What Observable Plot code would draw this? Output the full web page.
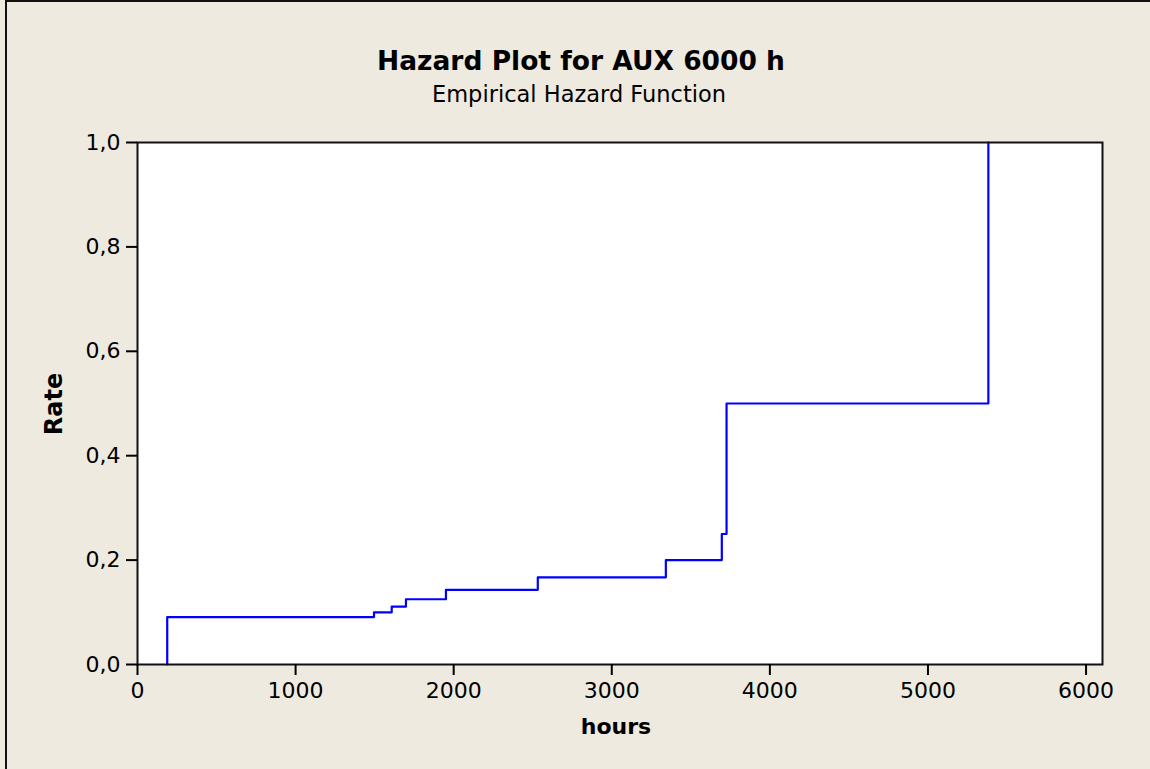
<!DOCTYPE html>
<html>
<head>
<meta charset="utf-8">
<script src="https://cdn.jsdelivr.net/npm/d3@7"></script>
<script src="https://cdn.jsdelivr.net/npm/@observablehq/plot@0.6"></script>
<style>
  html, body { margin: 0; padding: 0; background: #eeeae0; }
  #wrap { position: relative; width: 1150px; height: 769px; overflow: hidden; background: #eeeae0; font-family: "DejaVu Sans", sans-serif; }
  #edge { position: absolute; left: 5px; top: 0; width: 1145px; height: 769px; border-top: 2px solid #111; border-left: 2px solid #111; box-sizing: border-box; }
  .t { position: absolute; white-space: nowrap; color: #000; line-height: normal; }
  #title { top: 45px; left: 0; width: 1162px; text-align: center; font-weight: bold; font-size: 26.5px; }
  #subtitle { top: 81px; left: 0; width: 1158px; text-align: center; font-size: 22.5px; }
  #xlabel { top: 714px; left: 0; width: 1232px; text-align: center; font-weight: bold; font-size: 22px; }
  #ylabel { left: 54px; top: 404px; transform: translate(-50%, -50%) rotate(-90deg); font-weight: bold; font-size: 24px; }
  #plot { position: absolute; left: 0; top: 0; }
</style>
</head>
<body>
<div id="wrap">
  <div id="plot"></div>
  <div id="edge"></div>
  <div class="t" id="title">Hazard Plot for AUX 6000 h</div>
  <div class="t" id="subtitle">Empirical Hazard Function</div>
  <div class="t" id="xlabel">hours</div>
  <div class="t" id="ylabel">Rate</div>
</div>
<script>
// Empirical hazard steps
const hours = [188, 188, 1496, 1608, 1698, 1951, 2532, 3342, 3696, 3726, 5382];
const rate  = [0, 0.0909, 0.100, 0.111, 0.125, 0.143, 0.167, 0.200, 0.250, 0.500, 1.000];
const xTicks = [0, 1000, 2000, 3000, 4000, 5000, 6000];
const yTicks = [0, 0.2, 0.4, 0.6, 0.8, 1.0];

const data = hours.map((h, i) => ({hours: h, rate: rate[i]}));

const chart = Plot.plot({
  width: 1150,
  height: 769,
  marginLeft: 137,
  marginRight: 48,
  marginTop: 142,
  marginBottom: 105,
  style: {background: "transparent", fontFamily: "DejaVu Sans, sans-serif", fontSize: "22px", color: "#000"},
  x: {domain: [0, 6104], label: null},
  y: {domain: [0, 1], label: null},
  marks: [
    Plot.frame({fill: "white", stroke: null}),
    Plot.line(data, {x: "hours", y: "rate", curve: "step-after", stroke: "#0000ff", strokeWidth: 2.2}),
    Plot.frame({stroke: "#111", strokeWidth: 2}),
    Plot.axisX({ticks: xTicks, tickFormat: d => String(d), tickSize: 11, tickPadding: 7, strokeWidth: 2, fontSize: 22, label: null}),
    Plot.axisY({ticks: yTicks, tickFormat: d => d.toFixed(1).replace(".", ","), tickSize: 11, tickPadding: 6, strokeWidth: 2, fontSize: 22, label: null})
  ]
});
document.getElementById("plot").appendChild(chart);
</script>
</body>
</html>
